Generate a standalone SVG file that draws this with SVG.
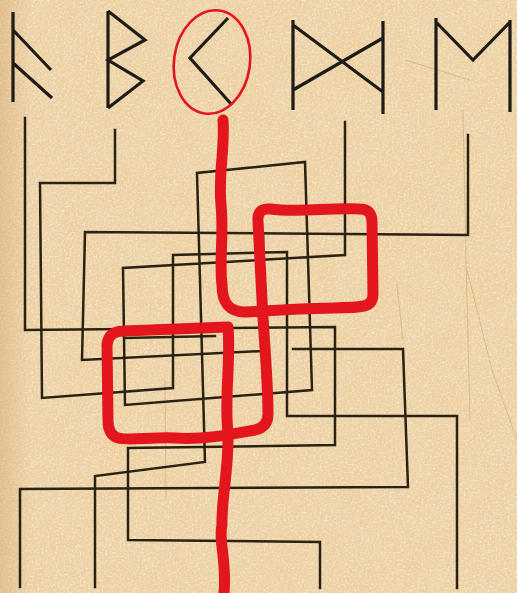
<svg xmlns="http://www.w3.org/2000/svg" width="517" height="593" viewBox="0 0 517 593">
<defs>
<style>
.m{fill:none;stroke:#2a2212;stroke-width:2.5;stroke-linejoin:miter;stroke-linecap:square}
.r{fill:none;stroke:#1f1b16;stroke-width:3.2;stroke-linecap:butt;stroke-linejoin:miter}
.p{fill:none;stroke:#e3161e;stroke-width:11;stroke-linecap:round;stroke-linejoin:round}
.c{fill:none;stroke:#c8964f;stroke-width:1;opacity:0.45}
</style>
<filter id="blotch" x="0" y="0" width="517" height="593" filterUnits="userSpaceOnUse">
<feTurbulence type="fractalNoise" baseFrequency="0.03" numOctaves="4" seed="7"/>
<feColorMatrix type="matrix" values="0 0 0 0 0.87  0 0 0 0 0.62  0 0 0 0 0.33  2.0 0 0 0 -0.85"/>
</filter>
<filter id="light" x="0" y="0" width="517" height="593" filterUnits="userSpaceOnUse">
<feTurbulence type="fractalNoise" baseFrequency="0.5" numOctaves="2" seed="2"/>
<feColorMatrix type="matrix" values="0 0 0 0 0.98  0 0 0 0 0.94  0 0 0 0 0.84  2.4 0 0 0 -1.1"/>
</filter>
<filter id="dark" x="0" y="0" width="517" height="593" filterUnits="userSpaceOnUse">
<feTurbulence type="fractalNoise" baseFrequency="0.4" numOctaves="2" seed="11"/>
<feColorMatrix type="matrix" values="0 0 0 0 0.82  0 0 0 0 0.56  0 0 0 0 0.30  2.4 0 0 0 -1.12"/>
</filter>
<linearGradient id="edge" x1="0" y1="0" x2="1" y2="0">
<stop offset="0" stop-color="#c99a60" stop-opacity="0.35"/>
<stop offset="0.06" stop-color="#c99a60" stop-opacity="0"/>
<stop offset="1" stop-color="#c99a60" stop-opacity="0"/>
</linearGradient>
</defs>

<g id="parchment">
<rect width="517" height="593" fill="#edd4a9"/>
<rect width="517" height="593" filter="url(#blotch)" opacity="0.75"/>
<rect width="517" height="593" filter="url(#light)" opacity="0.7"/>
<rect width="517" height="593" filter="url(#dark)" opacity="0.5"/>
<rect width="517" height="593" fill="url(#edge)"/>
<path class="c" d="M463,110 L466,260 L470,420"/>
<path class="c" d="M397,285 L403,340"/>
<path class="c" d="M467,270 L492,370 L517,440"/>
<path class="c" d="M165,380 L166,500"/>
<path class="c" d="M405,60 L470,80"/>
</g>

<g id="runes">
<g id="rune-1"><path class="r" d="M13,12 L13,102 M13,30 L51,70 M13,63 L52,98"/></g>
<g id="rune-2"><path class="r" d="M108,11 L108,108 M108,11 L145,40 L108,60 L143,81 L108,108"/></g>
<g id="rune-3"><path class="r" d="M228,18 L190,58 L232,105"/></g>
<g id="rune-4"><path class="r" d="M293,20 L293,110 M383,21 L383,114 M293,25 L383,92 M293,90 L383,38"/></g>
<g id="rune-5"><path class="r" d="M436,18 L436,110 M510,20 L510,112 M436,22 L473,60 L510,22"/></g>
</g>

<g id="maze">
<polyline class="m" points="345,122 345,255 123,268 125,405 312,390 305,162 197,173 205,462 95,476 95,587"/>
<polyline class="m" points="25,118 25,330 335,327 335,445 128,448 128,540 320,542 320,588"/>
<polyline class="m" points="115,130 115,183 40,183 42,398 173,388 173,255 287,252 287,416 457,416 457,588"/>
<polyline class="m" points="468,135 468,235 85,232 82,360 263,351 263,236"/>
<polyline class="m" points="293,349 403,349 408,487 20,489 20,587"/>
<polyline class="m" points="125,338 215,336"/>
</g>

<g id="solution">
<ellipse cx="212" cy="62" rx="38" ry="52" transform="rotate(8 212 62)" fill="none" stroke="#e3161e" stroke-width="2.6"/>
<path class="p" d="M223,120 C225,150 218,175 221,205 C224,235 219,260 222,285 Q222,312 245,312 L300,309 C330,307 350,309 364,306 Q373,304 373,294 L372,222 Q372,209 360,209 C330,207 300,213 270,209 Q257,208 258,221 L262,300 C264,340 268,380 268,414 Q268,427 255,430 C232,434 205,440 175,438 C150,437 130,441 118,438 Q108,435 108,420 L107,345 Q108,331 124,331 L228,327 C231,360 224,400 228,432 C229,470 221,500 222,525 C218,540 227,560 224,593"/>
</g>
</svg>
